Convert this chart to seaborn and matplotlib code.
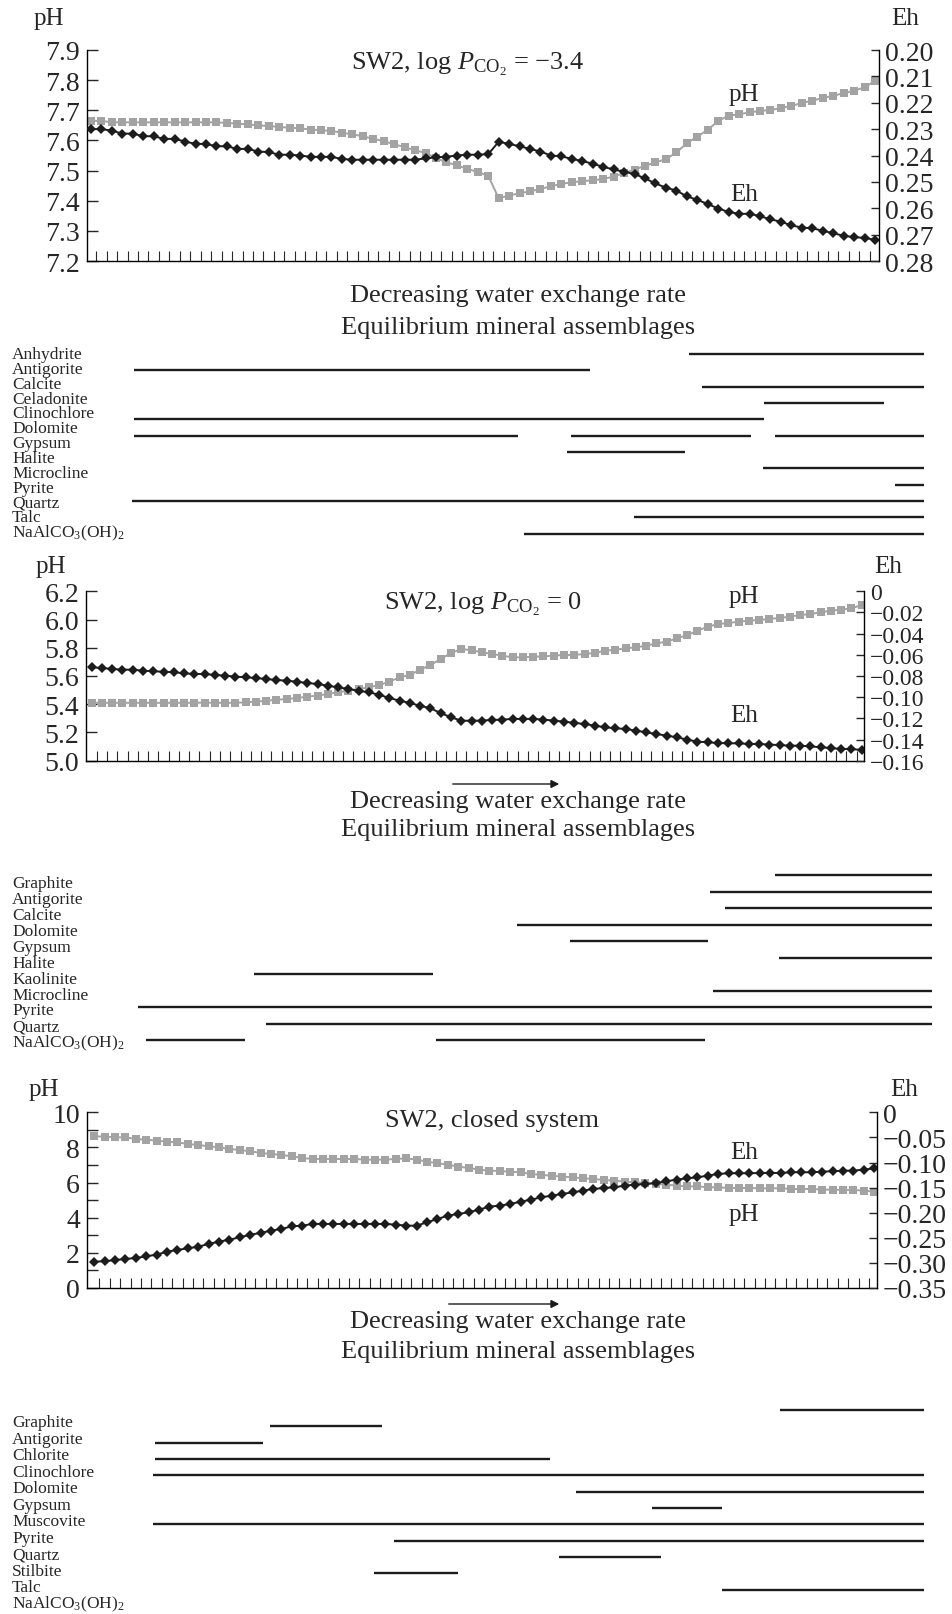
"""pH / Eh evolution of SW2 with equilibrium mineral assemblages"""
import numpy as np
import matplotlib
matplotlib.use("Agg")
import matplotlib.pyplot as plt
import seaborn as sns

sns.set_theme(style="ticks")
plt.rcParams["font.family"] = ["Liberation Serif", "DejaVu Serif"]
plt.rcParams["mathtext.fontset"] = "custom"
plt.rcParams["mathtext.rm"] = "Liberation Serif"
plt.rcParams["mathtext.it"] = "Liberation Serif:italic"
plt.rcParams["axes.edgecolor"] = "black"
plt.rcParams["axes.linewidth"] = 1.0

# ---------------- data: panel 1 (log PCO2 = -3.4) ----------------
ph_1 = [7.665, 7.665, 7.66, 7.66, 7.66, 7.66, 7.66, 7.66, 7.66, 7.66,
        7.66, 7.66, 7.66, 7.658, 7.656, 7.653, 7.650, 7.648, 7.645, 7.642,
        7.640, 7.636, 7.634, 7.631, 7.626, 7.620, 7.614, 7.605, 7.598, 7.587,
        7.578, 7.567, 7.559, 7.541, 7.528, 7.517, 7.506, 7.495, 7.483, 7.408,
        7.417, 7.425, 7.431, 7.439, 7.448, 7.456, 7.461, 7.465, 7.468, 7.472,
        7.480, 7.492, 7.503, 7.516, 7.527, 7.538, 7.560, 7.591, 7.613, 7.635,
        7.665, 7.682, 7.687, 7.693, 7.698, 7.701, 7.707, 7.715, 7.724, 7.732,
        7.741, 7.748, 7.757, 7.765, 7.776, 7.798]
eh_1 = [0.2300, 0.2300, 0.2306, 0.2317, 0.2317, 0.2327, 0.2327, 0.2337, 0.2337, 0.2347,
        0.2356, 0.2356, 0.2365, 0.2365, 0.2375, 0.2375, 0.2385, 0.2387, 0.2397, 0.2397,
        0.2400, 0.2405, 0.2405, 0.2405, 0.2413, 0.2416, 0.2416, 0.2416, 0.2416, 0.2416,
        0.2416, 0.2416, 0.2411, 0.2407, 0.2405, 0.2400, 0.2397, 0.2397, 0.2395, 0.2348,
        0.2356, 0.2365, 0.2375, 0.2385, 0.2400, 0.2403, 0.2413, 0.2421, 0.2431, 0.2443,
        0.2453, 0.2462, 0.2470, 0.2487, 0.2506, 0.2522, 0.2533, 0.2555, 0.2568, 0.2584,
        0.2601, 0.2614, 0.2621, 0.2621, 0.2630, 0.2642, 0.2651, 0.2665, 0.2673, 0.2676,
        0.2685, 0.2695, 0.2704, 0.2710, 0.2712, 0.2720]
ph_ticks_1 = [7.2, 7.3, 7.4, 7.5, 7.6, 7.7, 7.8, 7.9]
eh_ticks_1 = [0.20, 0.21, 0.22, 0.23, 0.24, 0.25, 0.26, 0.27, 0.28]

# ---------------- data: panel 2 (log PCO2 = 0) ----------------
ph_2 = [5.41, 5.41, 5.41, 5.41, 5.41, 5.41, 5.41, 5.41, 5.41, 5.41,
        5.41, 5.412, 5.41, 5.41, 5.41, 5.414, 5.418, 5.425, 5.432, 5.437,
        5.444, 5.454, 5.461, 5.473, 5.485, 5.496, 5.508, 5.520, 5.536, 5.560,
        5.591, 5.607, 5.645, 5.678, 5.720, 5.763, 5.791, 5.783, 5.768, 5.756,
        5.744, 5.732, 5.732, 5.737, 5.739, 5.744, 5.749, 5.749, 5.756, 5.763,
        5.779, 5.786, 5.796, 5.803, 5.815, 5.831, 5.843, 5.867, 5.890, 5.921,
        5.949, 5.968, 5.975, 5.985, 5.992, 5.997, 6.004, 6.011, 6.020, 6.032,
        6.039, 6.051, 6.063, 6.070, 6.079, 6.103]
eh_2 = [-0.0718, -0.0724, -0.0734, -0.0740, -0.0740, -0.0750, -0.0756, -0.0759, -0.0765, -0.0775,
        -0.0781, -0.0781, -0.0790, -0.0797, -0.0806, -0.0812, -0.0819, -0.0828, -0.0838, -0.0844,
        -0.0854, -0.0866, -0.0876, -0.0892, -0.0907, -0.0923, -0.0939, -0.0954, -0.0977, -0.1008,
        -0.1033, -0.1055, -0.1081, -0.1105, -0.1150, -0.1190, -0.1222, -0.1222, -0.1221, -0.1215,
        -0.1212, -0.1205, -0.1205, -0.1205, -0.1212, -0.1221, -0.1231, -0.1243, -0.1253, -0.1269,
        -0.1284, -0.1294, -0.1300, -0.1316, -0.1332, -0.1348, -0.1363, -0.1379, -0.1401, -0.1420,
        -0.1426, -0.1433, -0.1436, -0.1436, -0.1442, -0.1442, -0.1448, -0.1452, -0.1458, -0.1458,
        -0.1464, -0.1474, -0.1480, -0.1490, -0.1490, -0.1499]
ph_ticks_2 = [5.0, 5.2, 5.4, 5.6, 5.8, 6.0, 6.2]
eh_ticks_2 = [0, -0.02, -0.04, -0.06, -0.08, -0.10, -0.12, -0.14, -0.16]

# ---------------- data: panel 3 (closed system) ----------------
ph_3 = [8.634, 8.615, 8.577, 8.577, 8.482, 8.444, 8.387, 8.330, 8.292, 8.197,
        8.140, 8.065, 8.008, 7.913, 7.856, 7.780, 7.685, 7.628, 7.571, 7.495,
        7.400, 7.343, 7.343, 7.343, 7.343, 7.343, 7.306, 7.306, 7.306, 7.343,
        7.381, 7.306, 7.192, 7.097, 7.021, 6.907, 6.831, 6.736, 6.680, 6.660,
        6.622, 6.584, 6.490, 6.433, 6.395, 6.338, 6.300, 6.243, 6.205, 6.148,
        6.110, 6.053, 6.015, 5.977, 5.920, 5.882, 5.825, 5.787, 5.787, 5.731,
        5.731, 5.693, 5.693, 5.693, 5.674, 5.674, 5.674, 5.636, 5.636, 5.636,
        5.598, 5.598, 5.579, 5.579, 5.541, 5.484]
eh_3 = [-0.2975, -0.2968, -0.2942, -0.2922, -0.2902, -0.2869, -0.2835, -0.2776, -0.2742, -0.2709,
        -0.2676, -0.2623, -0.2576, -0.2537, -0.2490, -0.2437, -0.2404, -0.2357, -0.2324, -0.2271,
        -0.2258, -0.2224, -0.2224, -0.2224, -0.2224, -0.2224, -0.2224, -0.2224, -0.2224, -0.2238,
        -0.2258, -0.2258, -0.2191, -0.2125, -0.2058, -0.2025, -0.1992, -0.1939, -0.1879, -0.1859,
        -0.1826, -0.1780, -0.1740, -0.1693, -0.1660, -0.1627, -0.1594, -0.1560, -0.1527, -0.1507,
        -0.1494, -0.1461, -0.1441, -0.1428, -0.1408, -0.1375, -0.1341, -0.1315, -0.1295, -0.1262,
        -0.1228, -0.1215, -0.1215, -0.1215, -0.1208, -0.1208, -0.1208, -0.1195, -0.1195, -0.1195,
        -0.1182, -0.1175, -0.1162, -0.1162, -0.1142, -0.1116]
ph_ticks_3 = [0, 2, 4, 6, 8, 10]
ph_minor_3 = [1, 3, 5, 7, 9]
eh_ticks_3 = [0, -0.05, -0.10, -0.15, -0.20, -0.25, -0.30, -0.35]

# ---------------- mineral assemblages (% of the run) ----------------
NAAL = r"NaAlCO$_3$(OH)$_2$"
minerals_1 = ["Anhydrite", "Antigorite", "Calcite", "Celadonite", "Clinochlore", "Dolomite",
              "Gypsum", "Halite", "Microcline", "Pyrite", "Quartz", "Talc", NAAL]
segments_1 = [("Anhydrite", 69.6, 99), ("Antigorite", 0.25, 57.25), ("Calcite", 71.25, 99),
              ("Celadonite", 79, 94), ("Clinochlore", 0.25, 79), ("Dolomite", 0.25, 48.25),
              ("Dolomite", 54.9, 77.4), ("Dolomite", 80.4, 99), ("Gypsum", 54.4, 69.1),
              ("Microcline", 78.9, 99), ("Pyrite", 95.4, 99), ("Quartz", 0, 99),
              ("Talc", 62.75, 99), (NAAL, 49, 99)]

minerals_2 = ["Graphite", "Antigorite", "Calcite", "Dolomite", "Gypsum", "Halite",
              "Kaolinite", "Microcline", "Pyrite", "Quartz", NAAL]
segments_2 = [("Graphite", 80.4, 100), ("Antigorite", 72.25, 100), ("Calcite", 74.1, 100),
              ("Dolomite", 48.1, 100), ("Gypsum", 54.75, 72), ("Halite", 80.9, 100),
              ("Kaolinite", 15.25, 37.6), ("Microcline", 72.6, 100), ("Pyrite", 0.8, 100),
              ("Quartz", 16.7, 100), (NAAL, 1.75, 14.1), (NAAL, 38, 71.6)]

minerals_3 = ["Graphite", "Antigorite", "Chlorite", "Clinochlore", "Dolomite", "Gypsum",
              "Muscovite", "Pyrite", "Quartz", "Stilbite", "Talc", NAAL]
segments_3 = [("Graphite", 81, 99), ("Antigorite", 17.3, 31.25), ("Chlorite", 2.9, 16.4),
              ("Clinochlore", 2.9, 52.25), ("Dolomite", 2.6, 99), ("Gypsum", 55.5, 99),
              ("Muscovite", 65, 73.7), ("Pyrite", 2.6, 99), ("Quartz", 32.75, 99),
              ("Stilbite", 53.4, 66.1), ("Talc", 30.25, 40.75), (NAAL, 73.7, 99)]

W, H = 953, 1615
GRAY = "#a3a3a3"
BLACK = "#1c1c1c"
TICK_FS = 20
fig = plt.figure(figsize=(W / 100, H / 100), dpi=100)


def px_rect(left, top, right, bottom):
    return [left / W, 1 - bottom / H, (right - left) / W, (bottom - top) / H]


def ftext(x, y, s, **kw):
    kw.setdefault("ha", "center")
    kw.setdefault("va", "center")
    fig.text(x / W, 1 - y / H, s, **kw)


def fmt(v, d):
    if v == 0:
        return "0"
    return f"{v:.{d}f}".replace("-", "\u2212")


def chart(rect, ph, eh, xlim, ph_lim, ph_ticks, ph_dec, eh_lim, eh_ticks, eh_dec,
          ph_minor=None, eh_fs=TICK_FS):
    ax = fig.add_axes(rect)
    tw = ax.twinx()
    steps = np.arange(len(ph))
    sns.lineplot(x=steps, y=ph, ax=ax, color=GRAY, marker="s", markersize=5.4,
                 markeredgewidth=0, linewidth=1.4)
    sns.lineplot(x=steps, y=eh, ax=tw, color=BLACK, marker="D", markersize=5.2,
                 markeredgewidth=0, linewidth=1.4)
    ax.set_xlim(*xlim)
    ax.set_ylim(*ph_lim)
    tw.set_ylim(*eh_lim)
    for a in (ax, tw):
        a.set_xlabel("")
        a.set_ylabel("")
        a.spines["top"].set_visible(False)
    ax.spines["right"].set_visible(False)
    tw.spines["left"].set_visible(False)
    tw.spines["bottom"].set_visible(False)

    ax.set_yticks(ph_ticks, [fmt(v, ph_dec) for v in ph_ticks])
    if ph_minor is not None:
        ax.set_yticks(ph_minor, minor=True)
    ax.tick_params(axis="y", which="both", direction="in", length=8, width=1.0,
                   pad=5, labelsize=TICK_FS, left=True)
    ax.set_xticks(np.arange(0.5, len(ph) - 1))
    ax.tick_params(axis="x", direction="in", length=7, width=0.8, bottom=True,
                   labelbottom=False)
    tw.set_yticks(eh_ticks, [fmt(v, eh_dec) for v in eh_ticks])
    tw.tick_params(axis="y", direction="in", length=6, width=1.0, pad=4,
                   labelsize=eh_fs, right=True)
    return ax


def assemblage(rect, names, segments, lanes):
    ax = fig.add_axes(rect)
    ax.set_xlim(0, 100)
    ax.set_ylim(len(names), -1)
    ax.axis("off")
    order = list(dict.fromkeys(s[0] for s in segments))
    lane_of = dict(zip(order, lanes))
    ax.hlines([lane_of[s[0]] for s in segments], [s[1] for s in segments],
              [s[2] for s in segments], color=BLACK, linewidth=1.7)
    for r, name in enumerate(names):
        ax.text(-0.15, r, name, transform=ax.get_yaxis_transform(), ha="left",
                va="center", fontsize=12.5)
    return ax


def arrow(x0, x1, y):
    fig.add_artist(matplotlib.patches.FancyArrowPatch(
        (x0 / W, 1 - y / H), (x1 / W, 1 - y / H), transform=fig.transFigure,
        arrowstyle="-|>", mutation_scale=12, color=BLACK, lw=1))


# ---------- panel 1 ----------
chart(px_rect(87, 51, 879, 262), ph_1, eh_1, (-0.38, 75.38), (7.2, 7.9), ph_ticks_1, 1,
      (0.28, 0.20), eh_ticks_1, 2)
ftext(49, 19, "pH", fontsize=18)
ftext(905, 19, "Eh", fontsize=18)
ftext(468, 64, "SW2, log $P_{\\mathrm{CO}_2}$ = \u22123.4", fontsize=19)
ftext(744, 95, "pH", fontsize=18)
ftext(744, 195, "Eh", fontsize=18)
ftext(518, 296, "Decreasing water exchange rate", fontsize=19)
ftext(518, 328, "Equilibrium mineral assemblages", fontsize=19)
assemblage(px_rect(132, 340.15, 932, 548.05), minerals_1, segments_1, np.linspace(0, 12.1, 12))

# ---------- panel 2 ----------
chart(px_rect(86, 592.3, 864.3, 761.7), ph_2, eh_2, (-0.55, 75.25), (5.0, 6.2), ph_ticks_2, 1,
      (-0.16, 0), eh_ticks_2, 2, eh_fs=17)
ftext(51, 567, "pH", fontsize=18)
ftext(888, 567, "Eh", fontsize=18)
ftext(483, 604, r"SW2, log $P_{\mathrm{CO}_2}$ = 0", fontsize=19)
ftext(744, 597, "pH", fontsize=18)
ftext(744, 716, "Eh", fontsize=18)
arrow(450, 562, 785)
ftext(518, 802, "Decreasing water exchange rate", fontsize=19)
ftext(518, 830, "Equilibrium mineral assemblages", fontsize=19)
assemblage(px_rect(132, 868.07, 932, 1059.23), minerals_2, segments_2, np.linspace(-0.5, 9.86, 11))

# ---------- panel 3 ----------
chart(px_rect(86.7, 1113.3, 877.3, 1289), ph_3, eh_3, (-0.73, 75.29), (0, 10), ph_ticks_3, 0,
      (-0.35, 0), eh_ticks_3, 2, ph_minor=ph_minor_3)
ftext(44, 1090, "pH", fontsize=18)
ftext(904, 1090, "Eh", fontsize=18)
ftext(492, 1121, "SW2, closed system", fontsize=19)
ftext(744, 1153, "Eh", fontsize=18)
ftext(744, 1215, "pH", fontsize=18)
arrow(446, 562, 1305)
ftext(518, 1322, "Decreasing water exchange rate", fontsize=19)
ftext(518, 1352, "Equilibrium mineral assemblages", fontsize=19)
assemblage(px_rect(132, 1406.8, 932, 1621.3), minerals_3, segments_3, np.linspace(-0.75, 10.15, 12))

fig.savefig("out.png", dpi=100)
